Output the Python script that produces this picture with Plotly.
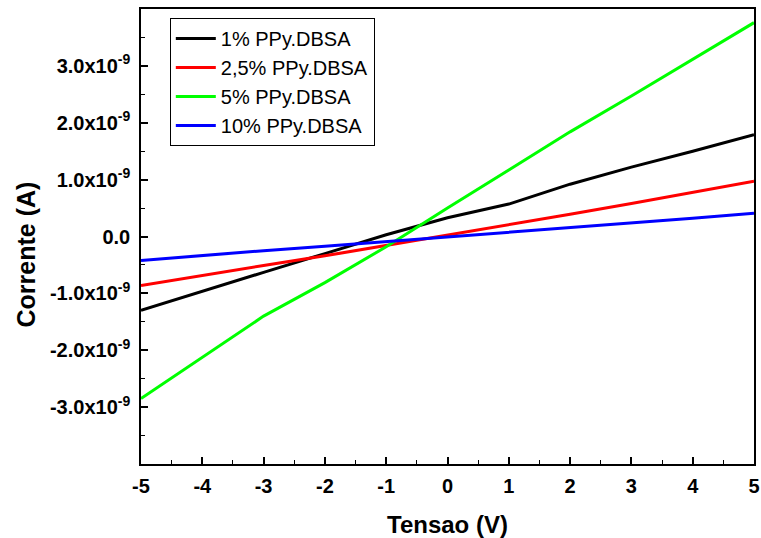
import plotly.graph_objects as go

# Applied voltage (V)
tensao = [-5, -4, -3, -2, -1, 0, 1, 2, 3, 4, 5]

# Current (in units of 1e-9 A) for each PPy.DBSA loading
corrente_1 = [-1.30, -0.96, -0.63, -0.30, 0.03, 0.33, 0.57, 0.92, 1.22, 1.50, 1.79]
corrente_2_5 = [-0.86, -0.68, -0.51, -0.34, -0.16, 0.02, 0.21, 0.39, 0.58, 0.78, 0.97]
corrente_5 = [-2.85, -2.12, -1.40, -0.81, -0.18, 0.50, 1.17, 1.84, 2.47, 3.12, 3.76]
corrente_10 = [-0.42, -0.33, -0.25, -0.17, -0.09, -0.01, 0.08, 0.16, 0.24, 0.32, 0.41]

series_names = ["1% PPy.DBSA", "2,5% PPy.DBSA", "5% PPy.DBSA", "10% PPy.DBSA"]
series_values = [corrente_1, corrente_2_5, corrente_5, corrente_10]
series_colors = ["#000000", "#ff0000", "#00ff00", "#0000ff"]

y_tick_vals = [-3e-9, -2e-9, -1e-9, 0, 1e-9, 2e-9, 3e-9]
y_tick_text = ["-3.0x10<sup>-9</sup>", "-2.0x10<sup>-9</sup>", "-1.0x10<sup>-9</sup>",
               "0.0", "1.0x10<sup>-9</sup>", "2.0x10<sup>-9</sup>", "3.0x10<sup>-9</sup>"]
x_tick_vals = [-5, -4, -3, -2, -1, 0, 1, 2, 3, 4, 5]
x_tick_text = ["-5", "-4", "-3", "-2", "-1", "0", "1", "2", "3", "4", "5"]

FONT = "Arial, Liberation Sans, sans-serif"

fig = go.Figure()
for name, vals, color in zip(series_names, series_values, series_colors):
    fig.add_trace(go.Scatter(
        x=tensao,
        y=[v * 1e-9 for v in vals],
        mode="lines",
        name=name,
        line=dict(color=color, width=3),
    ))

fig.update_layout(
    width=761, height=538,
    margin=dict(l=141, r=7, t=9, b=74),
    plot_bgcolor="white",
    paper_bgcolor="white",
    font=dict(family=FONT, color="black"),
    showlegend=True,
    legend=dict(
        x=0.047, y=0.98, xanchor="left", yanchor="top",
        bgcolor="white", bordercolor="black", borderwidth=1,
        font=dict(family=FONT, size=20, color="black"),
        tracegroupgap=0, itemwidth=40,
    ),
    annotations=[
        dict(text="<b>Tensao (V)</b>", xref="paper", yref="paper",
             x=0.5, y=-0.132, xanchor="center", yanchor="middle", showarrow=False,
             font=dict(family=FONT, size=24, color="black")),
        dict(text="<b>Corrente (A)</b>", xref="paper", yref="paper",
             x=-0.188, y=0.46, xanchor="center", yanchor="middle", showarrow=False,
             textangle=-90, font=dict(family=FONT, size=25, color="black")),
    ],
)

fig.update_xaxes(
    range=[-5, 5],
    tickvals=x_tick_vals, ticktext=x_tick_text,
    ticks="inside", ticklen=7, tickwidth=1.5, tickcolor="black",
    minor=dict(dtick=0.5, ticks="inside", ticklen=4, tickwidth=1, tickcolor="black"),
    showline=True, linecolor="black", linewidth=1.5, mirror=True,
    showgrid=False, zeroline=False, automargin=False,
    ticklabelstandoff=3,
    tickfont=dict(family=FONT, size=20, color="black", weight="bold"),
)

fig.update_yaxes(
    range=[-4e-9, 4e-9],
    tickvals=y_tick_vals, ticktext=y_tick_text,
    ticks="inside", ticklen=7, tickwidth=1.5, tickcolor="black",
    minor=dict(tick0=0, dtick=0.5e-9, ticks="inside", ticklen=4, tickwidth=1, tickcolor="black"),
    showline=True, linecolor="black", linewidth=1.5, mirror=True,
    showgrid=False, zeroline=False, automargin=False,
    ticklabelstandoff=5,
    tickfont=dict(family=FONT, size=20, color="black", weight="bold"),
)

fig.write_html("out.html")
